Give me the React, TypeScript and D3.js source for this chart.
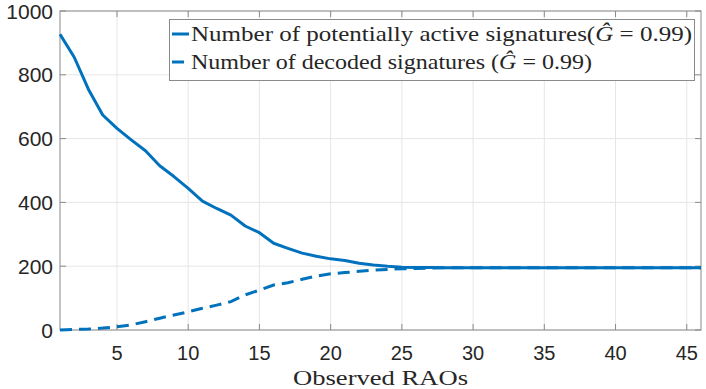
import { useMemo } from "react";
import * as d3 from "d3";

// observed RAO index (1..46)
const raos = d3.range(1, 47);

const activeSigs = [
  927, 855, 754, 674, 632, 596, 562, 515, 481, 444, 404, 381, 360, 326, 305,
  272, 256, 241, 231, 223, 218, 209, 204, 200, 197, 196, 196, 195, 195, 195,
  195, 195, 195, 195, 195, 195, 195, 195, 195, 195, 195, 195, 195, 195, 195, 195,
];

const decodedSigs = [
  0, 2, 3, 6, 10, 16, 26, 37, 47, 57, 68, 78, 89, 110, 125, 141, 148, 159, 169,
  176, 180, 184, 188, 190, 192, 193, 194, 195, 195, 195, 195, 195, 195, 195, 195,
  195, 195, 195, 195, 195, 195, 195, 195, 195, 195, 195,
];

const xTicks = [5, 10, 15, 20, 25, 30, 35, 40, 45];
const yTicks = [0, 200, 400, 600, 800, 1000];

const legendLabels = [
  "Number of potentially active signatures(",
  "Number of decoded signatures (",
];

const BLUE = "#0072BD";
const AXIS = "#8a8a8a";
const TEXT = "#262626";

const App = () => {
  const width = 706;
  const height = 389;
  const margin = { top: 11, right: 5, bottom: 59, left: 60 };
  const innerWidth = width - margin.left - margin.right;
  const innerHeight = height - margin.top - margin.bottom;

  const xScale = useMemo(
    () => d3.scaleLinear().domain([1, 46]).range([0, innerWidth]),
    [innerWidth]
  );
  const yScale = useMemo(
    () => d3.scaleLinear().domain([0, 1000]).range([innerHeight, 0]),
    [innerHeight]
  );

  const line = d3
    .line<number>()
    .x((_, i) => xScale(raos[i]))
    .y((d) => yScale(d));

  const tickLen = 6;

  return (
    <svg
      width={width}
      height={height}
      viewBox={`0 0 ${width} ${height}`}
      style={{ position: "absolute", left: 0, top: 0, background: "#fff" }}
    >
      <rect width={width} height={height} fill="#fff" />
      <g transform={`translate(${margin.left}, ${margin.top})`}>
        {/* grid */}
        {xTicks.map((t) => (
          <line
            key={`gx${t}`}
            x1={xScale(t)}
            x2={xScale(t)}
            y1={0}
            y2={innerHeight}
            stroke="#e6e6e6"
            strokeWidth={1}
          />
        ))}
        {yTicks.map((t) => (
          <line
            key={`gy${t}`}
            x1={0}
            x2={innerWidth}
            y1={yScale(t)}
            y2={yScale(t)}
            stroke="#e6e6e6"
            strokeWidth={1}
          />
        ))}

        {/* box + inward ticks */}
        <rect
          x={0}
          y={0}
          width={innerWidth}
          height={innerHeight}
          fill="none"
          stroke={AXIS}
          strokeWidth={1}
        />
        {xTicks.map((t) => (
          <g key={`tx${t}`} stroke={AXIS}>
            <line x1={xScale(t)} x2={xScale(t)} y1={innerHeight} y2={innerHeight - tickLen} />
            <line x1={xScale(t)} x2={xScale(t)} y1={0} y2={tickLen} />
          </g>
        ))}
        {yTicks.map((t) => (
          <g key={`ty${t}`} stroke={AXIS}>
            <line x1={0} x2={tickLen} y1={yScale(t)} y2={yScale(t)} />
            <line x1={innerWidth} x2={innerWidth - tickLen} y1={yScale(t)} y2={yScale(t)} />
          </g>
        ))}

        {/* series */}
        <path
          d={line(activeSigs) ?? ""}
          fill="none"
          stroke={BLUE}
          strokeWidth={3}
          strokeLinejoin="round"
        />
        <path
          d={line(decodedSigs) ?? ""}
          fill="none"
          stroke={BLUE}
          strokeWidth={3}
          strokeDasharray="12 7"
        />

        {/* tick labels */}
        {xTicks.map((t) => (
          <text
            key={`lx${t}`}
            x={xScale(t)}
            y={innerHeight + 30}
            textAnchor="middle"
            fontFamily="Liberation Sans, Arial, sans-serif"
            fontSize={20}
            fill={TEXT}
          >
            {t}
          </text>
        ))}
        {yTicks.map((t) => (
          <text
            key={`ly${t}`}
            x={-7}
            y={yScale(t) + 7.5}
            textAnchor="end"
            fontFamily="Liberation Sans, Arial, sans-serif"
            fontSize={21}
            fill={TEXT}
          >
            {t}
          </text>
        ))}
      </g>

      {/* x label */}
      <text
        x={margin.left + innerWidth / 2}
        y={385}
        textAnchor="middle"
        fontFamily="Liberation Serif, DejaVu Serif, serif"
        fontSize={22}
        fill={TEXT}
        textLength={175}
        lengthAdjust="spacingAndGlyphs"
      >
        Observed RAOs
      </text>

      {/* legend */}
      <g>
        <rect x={169.5} y={19.5} width={525} height={61} fill="#fff" stroke={AXIS} strokeWidth={1} />
        <line x1={172} x2={189} y1={34} y2={34} stroke={BLUE} strokeWidth={3} />
        <line x1={172} x2={184} y1={62} y2={62} stroke={BLUE} strokeWidth={3} />
        {legendLabels.map((lab, i) => (
          <text
            key={lab}
            x={191}
            y={41 + i * 28}
            fontFamily="Liberation Serif, DejaVu Serif, serif"
            fontSize={21}
            fill={TEXT}
            textLength={i === 0 ? 501 : 401}
            lengthAdjust="spacingAndGlyphs"
          >
            {lab}
            <tspan fontStyle="italic">Ĝ</tspan>
            <tspan> = 0.99)</tspan>
          </text>
        ))}
      </g>
    </svg>
  );
};

export default App;
